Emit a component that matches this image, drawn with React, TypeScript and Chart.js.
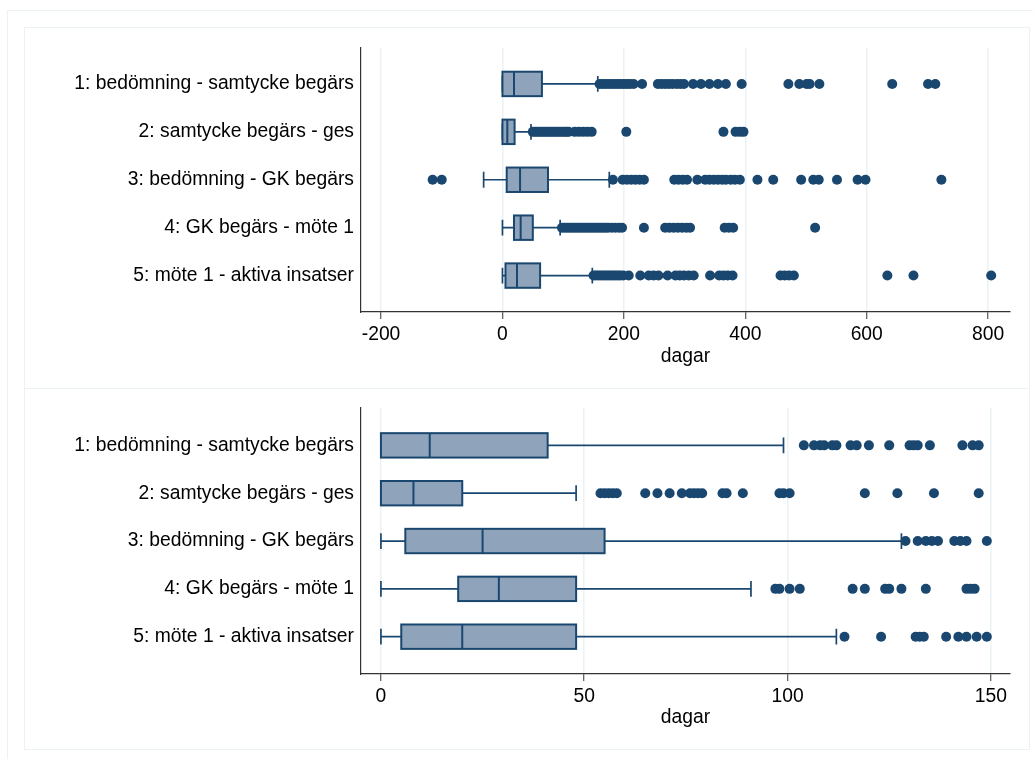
import React, { useEffect, useRef } from "react";
import { Chart, registerables } from "chart.js";
Chart.register(...registerables);

// ---------- data ----------
const categories = [
  "1: bedömning - samtycke begärs",
  "2: samtycke begärs - ges",
  "3: bedömning - GK begärs",
  "4: GK begärs - möte 1",
  "5: möte 1 - aktiva insatser",
];
const axisTitle = "dagar";

// top panel (all values)
const topTicks = [-200, 0, 200, 400, 600, 800];
const topLowWhisker = [0, 0, -31, 0, 0];
const topQ1 = [0, 0, 7, 19, 5];
const topMedian = [19, 8, 29, 30, 24];
const topQ3 = [65, 20, 75, 50, 62];
const topHighWhisker = [157, 47, 176, 95, 148];
const topOutliers1 = [160, 165, 170, 175, 180, 185, 190, 195, 200, 205, 210, 216, 230, 256, 262, 268, 274, 280, 287, 293, 299, 314, 327, 341, 355, 368, 394, 471, 489, 501, 506, 522, 642, 701, 713];
const topOutliers2 = [50, 54, 58, 62, 66, 70, 74, 78, 82, 86, 90, 94, 98, 102, 106, 109, 119, 126, 133, 140, 147, 204, 364, 384, 391, 397];
const topOutliers3 = [-115, -100, 182, 198, 205, 212, 219, 226, 233, 283, 290, 297, 304, 321, 334, 341, 348, 355, 362, 368, 376, 383, 391, 420, 446, 492, 512, 521, 551, 585, 598, 723];
const topOutliers4 = [98, 102, 106, 110, 114, 118, 122, 126, 130, 134, 138, 142, 146, 150, 154, 158, 162, 166, 170, 174, 180, 186, 192, 197, 233, 268, 275, 282, 289, 296, 303, 309, 366, 373, 380, 515];
const topOutliers5 = [150, 154, 158, 162, 166, 170, 174, 178, 182, 186, 190, 194, 199, 208, 227, 241, 249, 257, 272, 285, 292, 299, 307, 315, 342, 357, 364, 371, 379, 458, 465, 472, 480, 634, 677, 805];

// bottom panel (values under 150)
const bottomTicks = [0, 50, 100, 150];
const bottomLowWhisker = [0, 0, 0, 0, 0];
const bottomQ1 = [0, 0, 6, 19, 5];
const bottomMedian = [12, 8, 25, 29, 20];
const bottomQ3 = [41, 20, 55, 48, 48];
const bottomHighWhisker = [99, 48, 128, 91, 112];
const bottomOutliers1 = [104, 106.5, 108, 109, 111, 112, 115.5, 117, 120, 125, 130, 131, 132, 135, 143, 145.5, 147];
const bottomOutliers2 = [54, 55, 56, 57, 58, 65, 68, 71, 74, 76, 77, 78, 79, 84, 85, 89, 98, 99, 100.5, 119, 127, 136, 147];
const bottomOutliers3 = [129, 132, 134, 135.5, 137, 141, 142.5, 144, 149];
const bottomOutliers4 = [97, 98, 100.5, 103, 116, 119, 124, 125, 128, 134, 144, 145, 146];
const bottomOutliers5 = [114, 123, 131.5, 132.5, 133.5, 139, 142, 144, 146.5, 149];

// ---------- style ----------
const NAVY = "#1a476f";
const BOX_FILL = "#8fa4ba";
const GRID = "#eaf2f3";
const AXIS = "#333333";
const FONT = '"Liberation Sans", Arial, Helvetica, sans-serif';
const FONT_SIZE = 19.3;
const BOX_HALF = 0.255;
const CAP_HALF = 0.165;

type Stats = { lw: number[]; q1: number[]; med: number[]; q3: number[]; hw: number[]; out: number[][] };

const topStats: Stats = { lw: topLowWhisker, q1: topQ1, med: topMedian, q3: topQ3, hw: topHighWhisker, out: [topOutliers1, topOutliers2, topOutliers3, topOutliers4, topOutliers5] };
const bottomStats: Stats = { lw: bottomLowWhisker, q1: bottomQ1, med: bottomMedian, q3: bottomQ3, hw: bottomHighWhisker, out: [bottomOutliers1, bottomOutliers2, bottomOutliers3, bottomOutliers4, bottomOutliers5] };

function boxPlugin(stats: Stats) {
  return {
    id: "boxes",
    beforeDatasetsDraw(chart: any) {
      const { ctx, scales } = chart;
      const x = scales.x;
      const y = scales.y;
      ctx.save();
      stats.q1.forEach((_: number, i: number) => {
        const v = i + 1;
        const yc = y.getPixelForValue(v);
        const h = Math.abs(y.getPixelForValue(v + BOX_HALF) - yc);
        const c = Math.abs(y.getPixelForValue(v + CAP_HALF) - yc);
        const xlw = x.getPixelForValue(stats.lw[i]);
        const xq1 = x.getPixelForValue(stats.q1[i]);
        const xmd = x.getPixelForValue(stats.med[i]);
        const xq3 = x.getPixelForValue(stats.q3[i]);
        const xhw = x.getPixelForValue(stats.hw[i]);
        ctx.strokeStyle = NAVY;
        // whiskers
        ctx.lineWidth = 1.7;
        ctx.beginPath();
        ctx.moveTo(xq3, yc);
        ctx.lineTo(xhw, yc);
        ctx.moveTo(xhw, yc - c);
        ctx.lineTo(xhw, yc + c);
        if (stats.lw[i] < stats.q1[i]) {
          ctx.moveTo(xq1, yc);
          ctx.lineTo(xlw, yc);
        }
        ctx.moveTo(xlw, yc - c);
        ctx.lineTo(xlw, yc + c);
        ctx.stroke();
        // box
        ctx.fillStyle = BOX_FILL;
        ctx.fillRect(xq1, yc - h, xq3 - xq1, 2 * h);
        ctx.lineWidth = 2;
        ctx.strokeRect(xq1, yc - h, xq3 - xq1, 2 * h);
        // median
        ctx.beginPath();
        ctx.moveTo(xmd, yc - h);
        ctx.lineTo(xmd, yc + h);
        ctx.stroke();
      });
      ctx.restore();
    },
  };
}

type PanelProps = {
  stats: Stats;
  ticks: number[];
  xMin: number;
  xMax: number;
  yMin: number;
  yMax: number;
  padTop: number;
  xAxisHeight: number;
  width: number;
  height: number;
};

function Panel(p: PanelProps) {
  const ref = useRef<HTMLCanvasElement | null>(null);
  useEffect(() => {
    if (!ref.current) return;
    const points: { x: number; y: number }[] = [];
    p.stats.out.forEach((arr, i) => arr.forEach((v) => points.push({ x: v, y: i + 1 })));
    const chart = new Chart(ref.current, {
      type: "scatter",
      data: {
        datasets: [
          {
            data: points,
            pointRadius: 5,
            pointBackgroundColor: NAVY,
            pointBorderColor: NAVY,
            pointBorderWidth: 0,
            showLine: false,
          },
        ],
      },
      plugins: [boxPlugin(p.stats)],
      options: {
        animation: false,
        responsive: false,
        events: [],
        layout: { padding: { left: 0, right: 20, top: p.padTop, bottom: 0 } },
        plugins: { legend: { display: false }, tooltip: { enabled: false }, title: { display: false } },
        scales: {
          x: {
            type: "linear",
            position: "bottom",
            min: p.xMin,
            max: p.xMax,
            afterBuildTicks: (s: any) => {
              s.ticks = p.ticks.map((v) => ({ value: v }));
            },
            afterFit: (s: any) => {
              s.height = p.xAxisHeight;
            },
            ticks: {
              color: "#000",
              font: { family: FONT, size: FONT_SIZE },
              padding: 4,
              maxRotation: 0,
              autoSkip: false,
            },
            grid: {
              display: true,
              color: GRID,
              lineWidth: 1.5,
              drawTicks: true,
              tickLength: 7,
              tickColor: AXIS,
              tickWidth: 1,
            },
            border: { display: true, color: AXIS, width: 1.2 },
            title: {
              display: true,
              text: axisTitle,
              color: "#000",
              font: { family: FONT, size: FONT_SIZE },
              padding: { top: 0, bottom: 21 },
            },
          },
          y: {
            type: "linear",
            position: "left",
            reverse: true,
            min: p.yMin,
            max: p.yMax,
            afterBuildTicks: (s: any) => {
              s.ticks = categories.map((_, i) => ({ value: i + 1 }));
            },
            afterFit: (s: any) => {
              s.width = 337;
            },
            ticks: {
              color: "#000",
              font: { family: FONT, size: FONT_SIZE },
              padding: 7,
              autoSkip: false,
              callback: (v: any) => categories[Math.round(Number(v)) - 1] ?? "",
            },
            grid: { display: false, drawTicks: false },
            border: { display: true, color: AXIS, width: 1.2 },
          },
        },
      } as any,
    });
    return () => chart.destroy();
  }, []);
  return <canvas ref={ref} width={p.width} height={p.height} style={{ width: p.width, height: p.height, display: "block" }} />;
}

export default function App() {
  return (
    <div style={{ position: "absolute", left: 0, top: 0, width: 1033, height: 759, background: "#fff", overflow: "hidden" }}>
      <div style={{ position: "absolute", left: 7, top: 10, width: 1060, height: 780, border: `1.5px solid ${GRID}`, boxSizing: "border-box" }} />
      <div style={{ position: "absolute", left: 24, top: 27, width: 1006, height: 362, border: `1.5px solid ${GRID}`, boxSizing: "border-box" }} />
      <div style={{ position: "absolute", left: 24, top: 388, width: 1006, height: 362, border: `1.5px solid ${GRID}`, boxSizing: "border-box" }} />
      <div style={{ position: "absolute", left: 24, top: 27 }}>
        <Panel stats={topStats} ticks={topTicks} xMin={-233} xMax={836} yMin={0.25} yMax={5.76} padTop={21} xAxisHeight={77} width={1006} height={362} />
      </div>
      <div style={{ position: "absolute", left: 24, top: 389 }}>
        <Panel stats={bottomStats} ticks={bottomTicks} xMin={-4.9} xMax={154.7} yMin={0.21} yMax={5.78} padTop={18} xAxisHeight={76} width={1006} height={361} />
      </div>
    </div>
  );
}
